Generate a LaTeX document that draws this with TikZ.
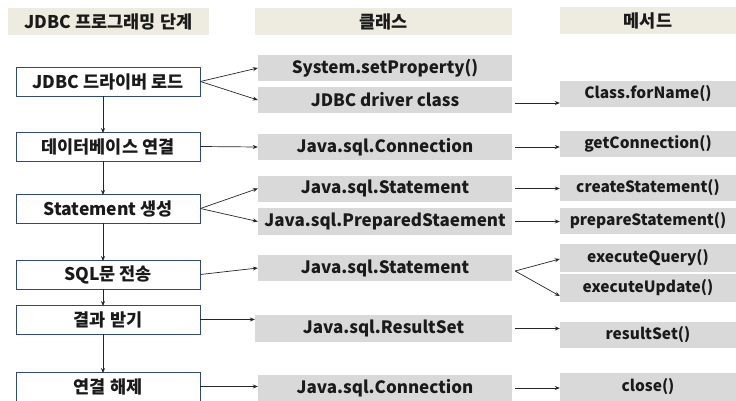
\documentclass[tikz,border=0pt]{standalone}
\usepackage{fontspec}
\setmainfont{Noto Sans CJK KR}
\usetikzlibrary{arrows.meta}
\definecolor{hdr}{HTML}{EEECE1}
\definecolor{gry}{HTML}{D9D9D9}
\definecolor{bdr}{HTML}{2E4A7A}
\definecolor{txt}{HTML}{1A1A1A}
\begin{document}
\begin{tikzpicture}[x=1pt,y=-1pt,
  every node/.style={font=\fontsize{17.5}{19}\selectfont\bfseries, text=txt, inner sep=0pt},
  hbox/.style={fill=hdr, minimum height=27pt},
  stepbox/.style={draw=bdr, line width=0.9pt, fill=white, minimum width=184pt, minimum height=29pt},
  cbox/.style={fill=gry, minimum width=254pt, minimum height=26pt, font=\fontsize{17}{19}\selectfont\bfseries},
  mbox/.style={fill=gry, minimum width=176pt, minimum height=26pt, font=\fontsize{15.5}{18}\selectfont\bfseries},
  arr/.style={-{Stealth[length=5pt,width=4pt]}, line width=0.7pt, draw=black!85}]
\useasboundingbox (0,0) rectangle (736,401);
% headers
\node[hbox, minimum width=201pt] (h1) at (108.5,21.5) {JDBC 프로그래밍 단계};
\node[hbox, minimum width=257pt] (h2) at (383.5,21.5) {클래스};
\node[hbox, minimum width=176pt] (h3) at (648,20.5) {메서드};
% steps
\node[stepbox] (s1) at (108,81.5) {JDBC 드라이버 로드};
\node[stepbox] (s2) at (108,146.5) {데이터베이스 연결};
\node[stepbox] (s3) at (108,208.5) {Statement 생성};
\node[stepbox] (s4) at (108,274.5) {SQL문 전송};
\node[stepbox] (s5) at (108,319.5) {결과 받기};
\node[stepbox] (s6) at (108,386.5) {연결 해제};
% classes
\node[cbox] (c1) at (385,68) {System.setProperty()};
\node[cbox] (c2) at (385,100) {JDBC driver class};
\node[cbox] (c3) at (385,147) {Java.sql.Connection};
\node[cbox] (c4) at (385,188.5) {Java.sql.Statement};
\node[cbox, minimum height=27pt] (c5) at (385,221.5) {Java.sql.PreparedStaement};
\node[cbox] (c6) at (385,268) {Java.sql.Statement};
\node[cbox, minimum width=257pt, minimum height=27pt] (c7) at (383.5,328.5) {Java.sql.ResultSet};
\node[cbox] (c8) at (385,388) {Java.sql.Connection};
% methods
\node[mbox] (m1) at (648,94) {Class.forName()};
\node[mbox] (m2) at (648,144) {getConnection()};
\node[mbox] (m3) at (648,188) {createStatement()};
\node[mbox] (m4) at (648,221) {prepareStatement()};
\node[mbox, minimum height=28pt] (m5) at (648,258) {executeQuery()};
\node[mbox, minimum height=28pt] (m6) at (648,288) {executeUpdate()};
\node[mbox] (m7) at (648,335) {resultSet()};
\node[mbox, minimum height=28pt] (m8) at (648,387) {close()};
% vertical flow
\foreach \a/\b in {s1/s2,s2/s3,s3/s4,s4/s5,s5/s6}
  \draw[arr] ([xshift=-5pt]\a.south) -- ([xshift=-5pt,yshift=-1.5pt]\b.north);
% steps -> classes
\draw[arr] (s1.east) -- (c1.west);
\draw[arr] (s1.east) -- (c2.west);
\draw[arr] (s2.east) -- (c3.west);
\draw[arr] (s3.east) -- (c4.west);
\draw[arr] (s3.east) -- (c5.west);
\draw[arr] (s4.east) -- (c6.west);
\draw[arr] (s5.east) -- (s5.east -| c7.west);
\draw[arr] (s6.east) -- (s6.east -| c8.west);
% classes -> methods
\draw[arr] ([xshift=3pt,yshift=-3pt]c2.east) -- ([yshift=-3pt]c2.east -| m1.west);
\draw[arr] ([xshift=3pt]c3.east) -- (c3.east -| m2.west);
\draw[arr] ([xshift=3pt]c4.east) -- (c4.east -| m3.west);
\draw[arr] ([xshift=3pt]c5.east) -- (c5.east -| m4.west);
\draw[arr] ([xshift=3pt,yshift=-3pt]c6.east) -- ([yshift=-1pt]m5.west);
\draw[arr] ([xshift=3pt,yshift=-3pt]c6.east) -- ([yshift=-8pt]m6.west);
\draw[arr] ([xshift=3pt]c7.east) -- (c7.east -| m7.west);
\draw[arr] ([xshift=3pt]c8.east) -- (c8.east -| m8.west);
\end{tikzpicture}
\end{document}
